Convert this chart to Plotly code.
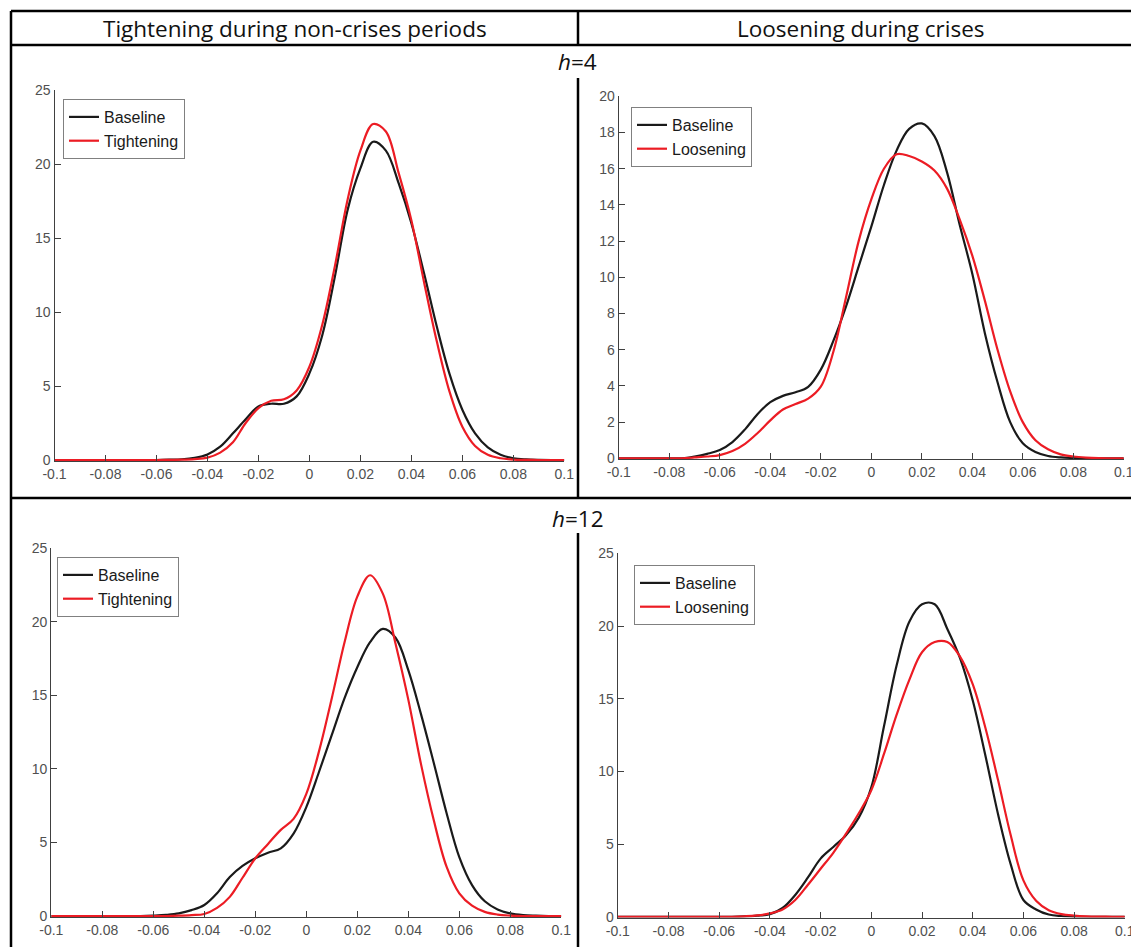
import plotly.graph_objects as go

W, H = 1131, 947

# Shared evaluation grid of the kernel density estimates
x_grid = [-0.1, -0.095, -0.09, -0.085, -0.08, -0.075, -0.07, -0.065, -0.06, -0.055,
          -0.05, -0.045, -0.04, -0.035, -0.03, -0.025, -0.02, -0.015, -0.01, -0.005,
          0.0, 0.005, 0.01, 0.015, 0.02, 0.025, 0.03, 0.035, 0.04, 0.045,
          0.05, 0.055, 0.06, 0.065, 0.07, 0.075, 0.08, 0.085, 0.09, 0.095, 0.1]

# h=4, tightening during non-crises periods
h4_tight_base = [0, 0, 0, 0, 0, 0, 0, 0, 0, 0.02,
                 0.05, 0.15, 0.38, 0.9, 1.8, 2.75, 3.62, 3.8, 3.8, 4.3,
                 5.85, 8.4, 12.4, 16.9, 19.7, 21.5, 20.9, 18.7, 16.0, 12.6,
                 9.0, 5.8, 3.4, 1.8, 0.85, 0.35, 0.12, 0.04, 0.01, 0, 0]
h4_tight = [0, 0, 0, 0, 0, 0, 0, 0, 0, 0.01,
            0.02, 0.06, 0.16, 0.5, 1.2, 2.5, 3.5, 4.0, 4.1, 4.7,
            6.3, 9.1, 13.1, 17.6, 20.9, 22.7, 22.2, 19.4, 16.2, 12.0,
            8.0, 4.6, 2.25, 0.95, 0.35, 0.12, 0.03, 0.01, 0, 0, 0]

# h=4, loosening during crises
h4_loose_base = [0, 0, 0, 0, 0, 0, 0.1, 0.25, 0.46, 0.9,
                 1.6, 2.45, 3.1, 3.45, 3.65, 3.95, 4.9, 6.5, 8.4, 10.6,
                 12.8, 15.1, 17.0, 18.2, 18.5, 17.8, 15.8, 12.9, 10.2, 6.9,
                 4.2, 2.0, 0.83, 0.35, 0.13, 0.05, 0.02, 0, 0, 0, 0]
h4_loose = [0, 0, 0, 0, 0, 0, 0.05, 0.1, 0.18, 0.4,
            0.8, 1.4, 2.1, 2.7, 3.0, 3.3, 3.96, 5.9, 8.9, 12.0,
            14.3, 16.0, 16.8, 16.7, 16.4, 15.9, 14.9, 13.2, 11.2, 8.7,
            6.0, 3.7, 2.0, 1.0, 0.5, 0.22, 0.1, 0.04, 0.01, 0, 0]

# h=12, tightening during non-crises periods
h12_tight_base = [0, 0, 0, 0, 0, 0, 0, 0, 0.03, 0.08,
                  0.18, 0.4, 0.75, 1.55, 2.65, 3.4, 3.92, 4.3, 4.6, 5.6,
                  7.4, 9.8, 12.3, 14.8, 16.9, 18.6, 19.5, 18.9, 16.7, 13.7,
                  10.4, 7.0, 4.0, 2.1, 1.0, 0.45, 0.18, 0.06, 0.02, 0, 0]
h12_tight = [0, 0, 0, 0, 0, 0, 0, 0, 0, 0,
             0.02, 0.06, 0.14, 0.55, 1.3, 2.6, 3.92, 4.9, 5.85, 6.6,
             8.3, 11.2, 14.8, 18.6, 21.7, 23.15, 21.9, 18.5, 14.7, 10.3,
             6.5, 3.35, 1.54, 0.7, 0.28, 0.1, 0.03, 0, 0, 0, 0]

# h=12, loosening during crises
h12_loose_base = [0, 0, 0, 0, 0, 0, 0, 0, 0, 0,
                  0.02, 0.07, 0.18, 0.6, 1.5, 2.7, 4.0, 4.8, 5.6, 6.8,
                  8.9, 13.1, 17.3, 20.3, 21.5, 21.5, 19.8, 17.8, 14.9, 11.1,
                  7.05, 3.6, 1.15, 0.5, 0.15, 0.05, 0.01, 0, 0, 0, 0]
h12_loose = [0, 0, 0, 0, 0, 0, 0, 0, 0, 0,
             0.03, 0.09, 0.23, 0.5, 1.15, 2.2, 3.3, 4.4, 5.7, 7.1,
             8.7, 11.2, 13.9, 16.3, 18.2, 18.9, 18.9, 17.9, 16.0, 13.0,
             9.4, 5.6, 2.5, 1.1, 0.45, 0.18, 0.08, 0.03, 0.01, 0, 0]

x_tickvals = [-0.1, -0.08, -0.06, -0.04, -0.02, 0, 0.02, 0.04, 0.06, 0.08, 0.1]
x_ticktext = ["-0.1", "-0.08", "-0.06", "-0.04", "-0.02", "0",
              "0.02", "0.04", "0.06", "0.08", "0.1"]
y_ticks_25 = [0, 5, 10, 15, 20, 25]
y_ticks_20 = [0, 2, 4, 6, 8, 10, 12, 14, 16, 18, 20]

col_titles = ["Tightening during non-crises periods", "Loosening during crises"]
row_titles = ["<i>h</i>=4", "<i>h</i>=12"]

BLACK = "#1a1a1a"
RED = "#ec1c24"
AXIS = "#404040"
TICKFONT = dict(family="Liberation Sans, Arial, sans-serif", size=14, color="#505050")


def px_x(p):
    return p / W


def px_y(p):
    return 1 - p / H


panels = [
    dict(xs=(54.5, 564.3), ys=(460.9, 90), ytop=25, yt=y_ticks_25,
         base=h4_tight_base, alt=h4_tight, alt_name="Tightening",
         leg=(63, 99)),
    dict(xs=(618.8, 1123.8), ys=(459.2, 96.3), ytop=20, yt=y_ticks_20,
         base=h4_loose_base, alt=h4_loose, alt_name="Loosening",
         leg=(631, 107)),
    dict(xs=(51.3, 561.3), ys=(916.9, 548), ytop=25, yt=y_ticks_25,
         base=h12_tight_base, alt=h12_tight, alt_name="Tightening",
         leg=(57, 557)),
    dict(xs=(617.8, 1124.8), ys=(917.6, 553.4), ytop=25, yt=y_ticks_25,
         base=h12_loose_base, alt=h12_loose, alt_name="Loosening",
         leg=(634, 565)),
]

fig = go.Figure()
layout_axes = {}
legend_names = ["legend", "legend2", "legend3", "legend4"]

for i, p in enumerate(panels):
    n = "" if i == 0 else str(i + 1)
    xa, ya = "x" + n, "y" + n
    leg = legend_names[i]
    fig.add_trace(go.Scatter(
        x=x_grid, y=p["base"], mode="lines", name="Baseline",
        line=dict(color=BLACK, width=2.2, shape="spline", smoothing=1.0),
        xaxis=xa, yaxis=ya, legend=leg, hoverinfo="skip"))
    fig.add_trace(go.Scatter(
        x=x_grid, y=p["alt"], mode="lines", name=p["alt_name"],
        line=dict(color=RED, width=2.2, shape="spline", smoothing=1.0),
        xaxis=xa, yaxis=ya, legend=leg, hoverinfo="skip"))

    layout_axes["xaxis" + n] = dict(
        domain=[px_x(p["xs"][0]), px_x(p["xs"][1])], anchor=ya,
        range=[-0.1, 0.1], tickvals=x_tickvals, ticktext=x_ticktext,
        ticks="inside", ticklen=6, tickcolor=AXIS, tickwidth=1,
        showline=True, linecolor=AXIS, linewidth=1.2, automargin=False,
        ticklabeloverflow="allow",
        showgrid=False, zeroline=False, tickfont=TICKFONT, fixedrange=True)
    layout_axes["yaxis" + n] = dict(
        domain=[px_y(p["ys"][0]), px_y(p["ys"][1])], anchor=xa,
        range=[-0.06 * p["ytop"] / 25, p["ytop"]], tickvals=p["yt"],
        ticks="inside", ticklen=6, tickcolor=AXIS, tickwidth=1,
        showline=True, linecolor=AXIS, linewidth=1.2, automargin=False,
        ticklabeloverflow="allow",
        showgrid=False, zeroline=False, tickfont=TICKFONT, fixedrange=True)
    layout_axes[leg] = dict(
        x=px_x(p["leg"][0]), y=px_y(p["leg"][1]), xanchor="left", yanchor="top",
        xref="paper", yref="paper",
        bgcolor="white", bordercolor="#808080", borderwidth=1,
        font=dict(family="Liberation Sans, Arial, sans-serif", size=16, color="#1a1a1a"),
        itemwidth=30, tracegroupgap=0)

# Table frame around the panels
LINE = dict(color="black", width=2.5)
frame = [
    (11, 11, W + 5, 11),      # top rule
    (11, 45, W + 5, 45),      # below column headers
    (11, 498, W + 5, 498),    # between the two horizons
    (11, 11, 11, H + 5),      # left border
    (578, 11, 578, 45),       # header divider
    (578, 78, 578, 498),      # divider, h=4
    (578, 533, 578, H + 5),   # divider, h=12
]
shapes = [dict(type="line", xref="paper", yref="paper",
               x0=px_x(a), y0=px_y(b), x1=px_x(c), y1=px_y(d), line=LINE)
          for a, b, c, d in frame]

HEAD_FONT = dict(family="Open Sans, Noto Sans, sans-serif", size=22.5, color="#111111")
annotations = [
    dict(text=col_titles[0], x=px_x(294.5), y=px_y(28), xref="paper", yref="paper",
         showarrow=False, xanchor="center", yanchor="middle", font=HEAD_FONT),
    dict(text=col_titles[1], x=px_x(861), y=px_y(28), xref="paper", yref="paper",
         showarrow=False, xanchor="center", yanchor="middle", font=HEAD_FONT),
    dict(text=row_titles[0], x=px_x(577.5), y=px_y(62), xref="paper", yref="paper",
         showarrow=False, xanchor="center", yanchor="middle", font=HEAD_FONT),
    dict(text=row_titles[1], x=px_x(577.5), y=px_y(518), xref="paper", yref="paper",
         showarrow=False, xanchor="center", yanchor="middle", font=HEAD_FONT),
]

fig.update_layout(
    width=W, height=H, margin=dict(l=0, r=0, t=0, b=0, autoexpand=False),
    paper_bgcolor="white", plot_bgcolor="white",
    shapes=shapes, annotations=annotations, **layout_axes)

fig.write_html("out.html", config={"displayModeBar": False})
